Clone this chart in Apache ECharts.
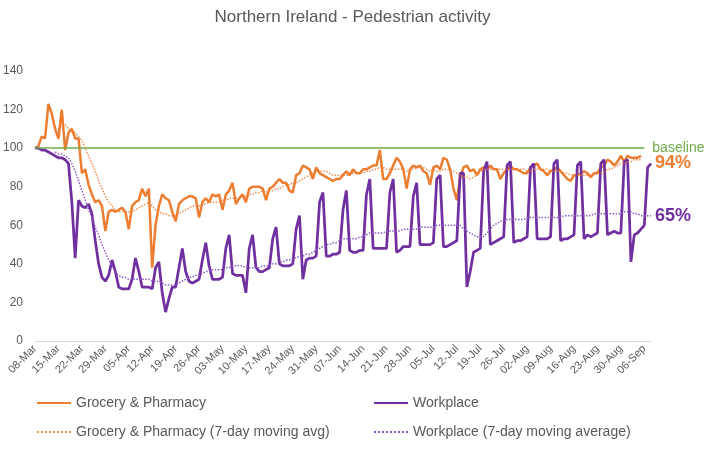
<!DOCTYPE html>
<html>
<head>
<meta charset="utf-8">
<script src="https://cdn.jsdelivr.net/npm/echarts@6/dist/echarts.min.js"></script>
<style>
  html, body { margin: 0; padding: 0; background: #fff; }
  #chart { width: 705px; height: 467px; }
</style>
</head>
<body>
<div id="chart"></div>
<script>
// daily axis: 08-Mar to 08-Sep
const startDay = "2020-03-08";
const dayCount = 185;
const baseline = 100;
const baselineEnd = "06-Sep";

const grocery = [
  100, 101, 106, 105, 123, 118, 110, 105, 120, 99,
  108, 110, 105, 105, 87, 89, 81, 76, 72, 73,
  70, 57, 67, 68, 67, 68, 69, 67, 58, 70,
  72, 73, 79, 75, 79, 38, 60, 70, 76, 74,
  73, 67, 62, 71, 73, 74, 75, 75, 74, 64,
  72, 74, 72, 76, 75, 76, 68, 76, 78, 82,
  71, 74, 76, 72, 79, 80, 80, 80, 79, 73,
  79, 80, 82, 84, 82, 82, 78, 77, 86, 87,
  91, 90, 89, 84, 90, 87, 86, 85, 84, 83,
  84, 84, 86, 88, 86, 89, 87, 87, 89, 89,
  90, 91, 91, 99, 84, 84, 87, 91, 95, 93,
  89, 79, 89, 91, 90, 91, 88, 87, 81, 90,
  91, 89, 95, 94, 89, 79, 73, 85, 90, 91,
  88, 89, 86, 89, 90, 89, 91, 89, 89, 84,
  87, 89, 91, 89, 89, 88, 87, 87, 90, 91,
  92, 89, 88, 86, 88, 89, 90, 88, 86, 84,
  83, 86, 86, 87, 88, 87, 85, 87, 87, 90,
  91, 94, 93, 91, 93, 96, 93, 96, 95, 95,
  95, 96
];

const workplace = [
  100, 100, 99, 99, 98, 97, 96, 95, 95, 94,
  92, 72, 43, 73, 70, 69, 71, 66, 52, 40,
  33, 31, 34, 42, 36, 28, 27, 27, 27, 32,
  43, 36, 28, 28, 28, 27, 38, 41, 25, 15,
  22, 28, 28, 38, 48, 36, 31, 30, 31, 32,
  42, 51, 39, 32, 32, 32, 33, 48, 55, 35,
  34, 34, 34, 25, 48, 55, 38, 36, 36, 37,
  38, 53, 59, 40, 39, 39, 39, 40, 58, 65,
  32, 42, 43, 43, 44, 72, 77, 44, 44, 45,
  45, 46, 68, 78, 47, 46, 46, 47, 47, 76,
  84, 48, 48, 48, 48, 48, 77, 84, 46, 47,
  49, 49, 49, 75, 82, 50, 50, 50, 50, 51,
  84, 86, 49, 49, 50, 51, 52, 87, 87, 28,
  36, 46, 47, 48, 88, 93, 50, 51, 52, 53,
  54, 91, 93, 51, 52, 52, 53, 54, 90, 92,
  53, 53, 53, 53, 54, 92, 94, 52, 53, 53,
  54, 55, 91, 93, 53, 55, 54, 55, 56, 92,
  94, 55, 56, 57, 56, 56, 93, 94, 41, 55,
  56, 58, 60, 90, 92
];

const groceryAvg = [
  null, null, null, null, null, null, 109, 110, 112, 112,
  110, 109, 108, 106, 104, 100, 96, 92, 88, 83,
  79, 75, 72, 70, 68, 67, 67, 67, 67, 67,
  68, 69, 70, 71, 72, 70, 68, 67, 66, 66,
  65, 65, 65, 66, 67, 68, 69, 70, 70, 70,
  71, 71, 72, 72, 72, 72, 73, 73, 74, 74,
  74, 74, 75, 75, 76, 76, 77, 77, 78, 77,
  78, 78, 79, 79, 80, 81, 81, 82, 82, 83,
  84, 85, 86, 87, 88, 88, 88, 88, 87, 86,
  86, 86, 86, 86, 86, 87, 87, 87, 87, 88,
  88, 89, 89, 90, 90, 89, 89, 89, 89, 89,
  89, 88, 89, 89, 90, 90, 90, 89, 88, 89,
  88, 88, 89, 89, 89, 88, 87, 86, 85, 85,
  84, 85, 86, 88, 89, 89, 89, 89, 89, 89,
  89, 89, 89, 89, 89, 89, 89, 88, 88, 89,
  89, 89, 89, 89, 88, 88, 88, 88, 87, 87,
  86, 86, 86, 86, 86, 86, 86, 87, 87, 87,
  88, 89, 89, 90, 91, 92, 92, 93, 93, 94,
  94, 94
];

const workplaceAvg = [
  null, null, null, null, null, null, 98, 97, 97, 96,
  95, 92, 88, 83, 78, 73, 68, 64, 59, 55,
  50, 46, 42, 39, 36, 34, 33, 33, 32, 32,
  32, 32, 32, 32, 32, 31, 31, 31, 30, 29,
  29, 29, 29, 30, 31, 32, 33, 33, 34, 34,
  35, 36, 36, 37, 37, 37, 37, 38, 38, 39,
  39, 39, 39, 38, 38, 38, 38, 38, 39, 39,
  39, 40, 40, 41, 41, 42, 42, 43, 43, 44,
  44, 45, 45, 46, 47, 48, 49, 50, 50, 51,
  51, 52, 53, 53, 53, 53, 53, 54, 54, 55,
  56, 56, 56, 56, 56, 57, 57, 57, 57, 57,
  58, 58, 58, 58, 58, 59, 59, 59, 59, 59,
  60, 60, 60, 60, 60, 60, 60, 60, 58, 57,
  56, 55, 54, 54, 54, 56, 58, 60, 61, 62,
  63, 63, 63, 63, 63, 63, 63, 64, 64, 64,
  64, 64, 64, 64, 64, 64, 64, 64, 65, 65,
  65, 65, 65, 65, 65, 65, 65, 66, 66, 66,
  66, 66, 66, 66, 66, 66, 67, 67, 67, 66,
  66, 65, 65, 65, 65
];

const months = ["Jan", "Feb", "Mar", "Apr", "May", "Jun", "Jul", "Aug", "Sep", "Oct", "Nov", "Dec"];
const categories = [];
const d0 = new Date(startDay + "T00:00:00Z");
for (let i = 0; i < dayCount; i++) {
  const d = new Date(d0.getTime() + i * 86400000);
  categories.push(String(d.getUTCDate()).padStart(2, "0") + "-" + months[d.getUTCMonth()]);
}

const ORANGE = "#ED7D31";
const PURPLE = "#7030A0";
const GREEN = "#70AD47";
const GREY = "#595959";

const chart = echarts.init(document.getElementById("chart"));

// legend icons are plain lines, no marker
const legendBase = {
  itemWidth: 34,
  itemGap: 0,
  padding: 0,
  itemStyle: { opacity: 0 },
  textStyle: { color: GREY, fontSize: 14 }
};

chart.setOption({
  animation: false,
  textStyle: { fontFamily: "Liberation Sans" },
  title: {
    text: "Northern Ireland - Pedestrian activity",
    left: "center",
    top: 4,
    textStyle: { color: GREY, fontSize: 17, fontWeight: "normal" }
  },
  legend: [
    Object.assign({ data: ["Grocery & Pharmacy"], left: 36, top: 396 }, legendBase),
    Object.assign({ data: ["Workplace"], left: 373, top: 396 }, legendBase),
    Object.assign({ data: ["Grocery & Pharmacy (7-day moving avg)"], left: 36, top: 425 }, legendBase),
    Object.assign({ data: ["Workplace (7-day moving average)"], left: 373, top: 425 }, legendBase)
  ],
  grid: { left: 33, right: 54, top: 71, bottom: 126 },
  xAxis: {
    type: "category",
    boundaryGap: false,
    data: categories,
    axisLine: { lineStyle: { color: "#D9D9D9" } },
    axisTick: { show: false },
    axisLabel: { interval: 6, rotate: 45, color: GREY, fontSize: 11, margin: 6 }
  },
  yAxis: {
    type: "value",
    min: 0,
    max: 140,
    interval: 20,
    splitLine: { show: false },
    axisLine: { show: false },
    axisTick: { show: false },
    axisLabel: { color: GREY, fontSize: 12, margin: 12 }
  },
  series: [
    {
      name: "Grocery & Pharmacy",
      type: "line",
      data: grocery,
      symbol: "none",
      color: ORANGE,
      lineStyle: { width: 2.5 },
      markLine: {
        silent: true,
        symbol: "none",
        lineStyle: { color: GREEN, width: 1.5, type: "solid" },
        label: { position: "end", formatter: "baseline", color: GREEN, fontSize: 14, distance: 8 },
        data: [[{ coord: [categories[0], baseline] }, { coord: [baselineEnd, baseline] }]]
      }
    },
    {
      name: "Workplace",
      type: "line",
      data: workplace,
      symbol: "none",
      color: PURPLE,
      lineStyle: { width: 2.75 }
    },
    {
      name: "Grocery & Pharmacy (7-day moving avg)",
      type: "line",
      data: groceryAvg,
      symbol: "none",
      color: ORANGE,
      lineStyle: { width: 1.5, type: "dotted", opacity: 0.85 },
      endLabel: {
        show: true,
        formatter: p => Math.round(p.value) + "%",
        color: ORANGE,
        fontSize: 18,
        fontWeight: "bold",
        distance: 14,
        offset: [0, 3]
      }
    },
    {
      name: "Workplace (7-day moving average)",
      type: "line",
      data: workplaceAvg,
      symbol: "none",
      color: "#8E5CC4",
      lineStyle: { width: 1.5, type: "dotted" },
      endLabel: {
        show: true,
        formatter: p => Math.round(p.value) + "%",
        color: PURPLE,
        fontSize: 18,
        fontWeight: "bold",
        distance: 4
      }
    }
  ]
});

window.addEventListener("resize", () => chart.resize());
</script>
</body>
</html>
